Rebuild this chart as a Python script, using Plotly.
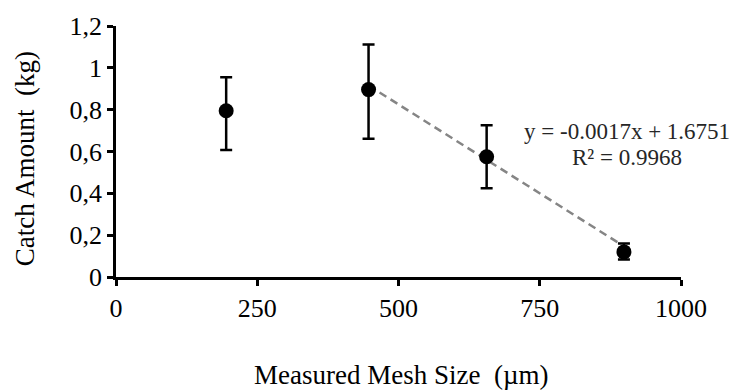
import plotly.graph_objects as go

# Catch amount by measured mesh size, with standard-deviation bars
mesh_size = [195, 447, 656, 899]
catch_kg = [0.795, 0.896, 0.575, 0.12]
err_plus = [0.16, 0.216, 0.15, 0.04]
err_minus = [0.188, 0.235, 0.151, 0.036]

# Linear trend fitted over the three largest mesh sizes
trend_slope = -0.0017
trend_intercept = 1.6751
trend_x = [447, 890]
trend_label = "y = -0.0017x + 1.6751"
r2_label = "R² = 0.9968"

x_ticks = [0, 250, 500, 750, 1000]
x_tick_text = ["0", "250", "500", "750", "1000"]
y_ticks = [0, 0.2, 0.4, 0.6, 0.8, 1.0, 1.2]
y_tick_text = ["0", "0,2", "0,4", "0,6", "0,8", "1", "1,2"]

FONT = "Liberation Serif, Times New Roman, serif"

fig = go.Figure()

fig.add_trace(go.Scatter(
    x=trend_x,
    y=[trend_slope * v + trend_intercept for v in trend_x],
    mode="lines",
    line=dict(color="#858585", width=2.5, dash="8px,5px"),
    hoverinfo="skip",
    showlegend=False,
))

fig.add_trace(go.Scatter(
    x=mesh_size,
    y=catch_kg,
    mode="markers",
    marker=dict(color="black", size=15),
    error_y=dict(type="data", symmetric=False, array=err_plus,
                 arrayminus=err_minus, color="black", thickness=2.5, width=6),
    showlegend=False,
))

fig.add_annotation(text=trend_label, x=905, y=0.698, xref="x", yref="y",
                   showarrow=False, font=dict(family=FONT, size=23, color="#262626"))
fig.add_annotation(text=r2_label, x=905, y=0.570, xref="x", yref="y",
                   showarrow=False, font=dict(family=FONT, size=23, color="#262626"))

fig.add_annotation(text="Catch Amount  (kg)", x=-0.161, y=0.469, xref="paper", yref="paper",
                   textangle=-90, showarrow=False, xanchor="center", yanchor="middle",
                   font=dict(family=FONT, size=27, color="black"))
fig.add_annotation(text="Measured Mesh Size  (µm)", x=0.505, y=-0.39, xref="paper", yref="paper",
                   showarrow=False, xanchor="center", yanchor="middle",
                   font=dict(family=FONT, size=27, color="black"))

axis_common = dict(
    showgrid=False, zeroline=False, showline=True, linecolor="black", linewidth=2.5,
    ticks="outside", ticklen=6, tickwidth=2.5, tickcolor="black",
    tickfont=dict(family=FONT, size=26, color="black"),
)
fig.update_xaxes(range=[0, 1000], tickvals=x_ticks, ticktext=x_tick_text, **axis_common)
fig.update_yaxes(range=[0, 1.2], tickvals=y_ticks, ticktext=y_tick_text, **axis_common)

fig.update_layout(
    width=735, height=392,
    margin=dict(l=116, r=54, t=24, b=115),
    plot_bgcolor="white", paper_bgcolor="white",
    font=dict(family=FONT),
)

fig.write_html("out.html")
